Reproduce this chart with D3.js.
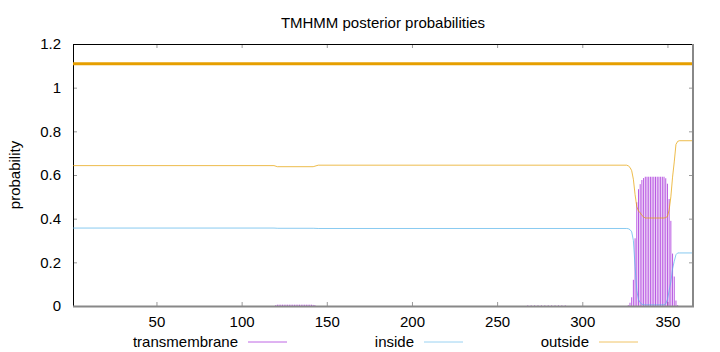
<!DOCTYPE html>
<html>
<head>
<meta charset="utf-8">
<script src="https://cdn.jsdelivr.net/npm/d3@7"></script>
<style>
  body { margin: 0; background: #fff; }
  text { font-family: "Liberation Sans", Arial, sans-serif; fill: #000; }
</style>
</head>
<body>
<div id="root"></div>
<script>
// sequence length and predicted topology bar
const seqLength = 365
const topoStart = [1]
const topoEnd = [365]
const topoY = [1.11]

// positions where the inside/outside curves change
const curvePos = [1, 119, 121, 142, 145, 326, 327, 328, 329, 330, 331, 332, 333, 334, 335, 336, 337, 348, 349, 350, 351, 352, 353, 354, 355, 356, 357, 365]
const outsideVals = [0.643, 0.643, 0.638, 0.638, 0.645, 0.645, 0.642, 0.635, 0.62, 0.58, 0.51, 0.455, 0.435, 0.427, 0.415, 0.408, 0.403, 0.403, 0.405, 0.41, 0.44, 0.50, 0.59, 0.66, 0.74, 0.754, 0.757, 0.757]
const insideVals = [0.357, 0.357, 0.356, 0.356, 0.355, 0.355, 0.354, 0.35, 0.34, 0.30, 0.18, 0.07, 0.03, 0.015, 0.008, 0.006, 0.005, 0.005, 0.01, 0.03, 0.07, 0.11, 0.17, 0.205, 0.235, 0.243, 0.243, 0.243]

// transmembrane impulses (only non-zero positions)
const tmPos = [120, 121, 122, 123, 124, 125, 126, 127, 128, 129, 130, 131, 132, 133, 134, 135, 136, 137, 138, 139, 140, 141, 142, 143,
  268, 270, 272, 274, 276, 278, 280, 282, 284, 286, 288, 290,
  327, 328, 329, 330, 331, 332, 333, 334, 335, 336, 337, 338, 339, 340, 341, 342, 343, 344, 345, 346, 347, 348, 349, 350, 351, 352, 353, 354, 355, 356]
const tmVals = [0.004, 0.006, 0.006, 0.006, 0.006, 0.006, 0.006, 0.006, 0.006, 0.006, 0.006, 0.006, 0.006, 0.006, 0.006, 0.006, 0.006, 0.006, 0.006, 0.006, 0.006, 0.006, 0.005, 0.004,
  0.003, 0.003, 0.003, 0.003, 0.003, 0.003, 0.003, 0.003, 0.003, 0.003, 0.003, 0.003,
  0.004, 0.015, 0.04, 0.12, 0.31, 0.475, 0.535, 0.558, 0.577, 0.586, 0.592, 0.592, 0.592, 0.592, 0.592, 0.592, 0.592, 0.592, 0.592, 0.592, 0.592, 0.592, 0.585, 0.56, 0.49, 0.39, 0.24, 0.135, 0.025, 0.004]

const xTicks = [50, 100, 150, 200, 250, 300, 350]
const yTicks = [0, 0.2, 0.4, 0.6, 0.8, 1, 1.2]
const legendLabels = ["transmembrane", "inside", "outside"]

const COLORS = { tm: "#9400d3", inside: "#56b4e9", outside: "#e69f00" }

function draw() {
  const width = 720
  const height = 352
  const margin = { top: 44, right: 27, bottom: 46, left: 73 }

  const svg = d3.select("#root").append("svg")
    .attr("width", width)
    .attr("height", height)

  const x = d3.scaleLinear()
    .domain([1, seqLength])
    .range([margin.left, width - margin.right])
  const y = d3.scaleLinear()
    .domain([0, 1.2])
    .range([height - margin.bottom, margin.top])

  // title
  svg.append("text")
    .attr("x", (margin.left + width - margin.right) / 2)
    .attr("y", 28)
    .attr("text-anchor", "middle")
    .style("font-size", "15px")
    .text("TMHMM posterior probabilities")

  // y label
  svg.append("text")
    .attr("transform", `translate(20, ${(margin.top + height - margin.bottom) / 2}) rotate(-90)`)
    .attr("text-anchor", "middle")
    .style("font-size", "15px")
    .text("probability")

  // axes (ticks point inwards like gnuplot)
  const xAxis = svg.append("g")
    .attr("transform", `translate(0, ${height - margin.bottom})`)
    .call(d3.axisBottom(x).tickValues(xTicks).tickSize(-4).tickPadding(10))
  const xAxisTop = svg.append("g")
    .attr("transform", `translate(0, ${margin.top})`)
    .call(d3.axisTop(x).tickValues(xTicks).tickSize(-4).tickFormat(""))
  const yAxis = svg.append("g")
    .attr("transform", `translate(${margin.left}, 0)`)
    .call(d3.axisLeft(y).tickValues(yTicks).tickSize(-4).tickPadding(12).tickFormat(d3.format("~g")))
  const yAxisRight = svg.append("g")
    .attr("transform", `translate(${width - margin.right}, 0)`)
    .call(d3.axisRight(y).tickValues(yTicks).tickSize(-4).tickFormat(""))

  svg.selectAll(".domain").remove()
  svg.selectAll(".tick line").attr("stroke", "#999")
  svg.selectAll(".tick text")
    .style("font-family", "'Liberation Sans', Arial, sans-serif")
    .style("font-size", "15px")
    .attr("fill", "#000")

  // borders
  const x0 = margin.left, x1 = width - margin.right
  const y0 = margin.top, y1 = height - margin.bottom
  svg.append("line").attr("x1", x0).attr("x2", x1).attr("y1", y0 + 0.5).attr("y2", y0 + 0.5).attr("stroke", "#000")
  svg.append("line").attr("x1", x0 + 0.5).attr("x2", x0 + 0.5).attr("y1", y0).attr("y2", y1).attr("stroke", "#000")

  // topology bar
  svg.append("g").selectAll("line")
    .data(topoStart)
    .join("line")
    .attr("x1", (d, i) => x(d))
    .attr("x2", (d, i) => x(topoEnd[i]))
    .attr("y1", (d, i) => y(topoY[i]))
    .attr("y2", (d, i) => y(topoY[i]))
    .attr("stroke", COLORS.outside)
    .attr("stroke-width", 3)

  // transmembrane impulses
  svg.append("g").selectAll("line")
    .data(tmPos)
    .join("line")
    .attr("x1", d => x(d))
    .attr("x2", d => x(d))
    .attr("y1", y(0))
    .attr("y2", (d, i) => y(tmVals[i]))
    .attr("stroke", COLORS.tm)
    .attr("stroke-opacity", 0.65)
    .attr("stroke-width", 1)

  const line = d3.line()
    .x((d, i) => x(curvePos[i]))
    .y(d => y(d))

  svg.append("path")
    .attr("d", line(insideVals))
    .attr("fill", "none")
    .attr("stroke", COLORS.inside)
    .attr("stroke-opacity", 0.7)
    .attr("stroke-width", 1)

  svg.append("path")
    .attr("d", line(outsideVals))
    .attr("fill", "none")
    .attr("stroke", COLORS.outside)
    .attr("stroke-opacity", 0.7)
    .attr("stroke-width", 1)

  // bottom and right borders (gray, thick)
  svg.append("line").attr("x1", x0).attr("x2", x1 + 1).attr("y1", y1 + 0.5).attr("y2", y1 + 0.5).attr("stroke", "#888").attr("stroke-width", 2)
  svg.append("line").attr("x1", x1).attr("x2", x1).attr("y1", y0).attr("y2", y1 + 1).attr("stroke", "#888").attr("stroke-width", 2)

  // legend
  const legendColors = [COLORS.tm, COLORS.inside, COLORS.outside]
  const legendTextX = [238, 414, 589]
  const legend = svg.append("g").selectAll("g")
    .data(legendLabels)
    .join("g")
  legend.append("text")
    .attr("x", (d, i) => legendTextX[i])
    .attr("y", 347)
    .attr("text-anchor", "end")
    .style("font-size", "15px")
    .text(d => d)
  legend.append("line")
    .attr("x1", (d, i) => legendTextX[i] + 10)
    .attr("x2", (d, i) => legendTextX[i] + 49)
    .attr("y1", 342)
    .attr("y2", 342)
    .attr("stroke", (d, i) => legendColors[i])
    .attr("stroke-opacity", 0.6)
}

draw()
</script>
</body>
</html>
